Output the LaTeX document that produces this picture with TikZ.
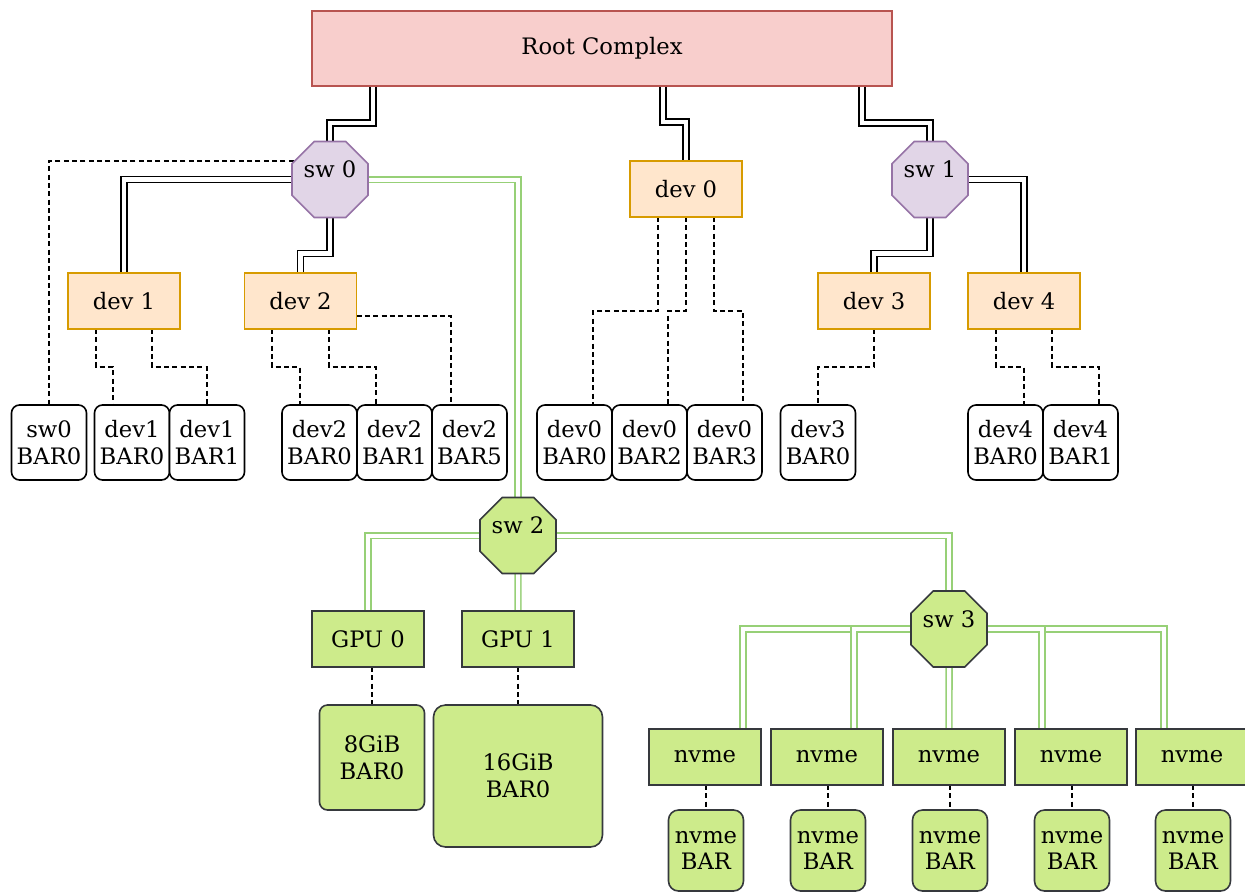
\documentclass[tikz,border=0pt]{standalone}
\usepackage{fontspec}
\setmainfont{DejaVu Serif}
\usetikzlibrary{shapes.geometric,backgrounds}
\definecolor{rootF}{HTML}{F8CECC}\definecolor{rootD}{HTML}{B85450}
\definecolor{purF}{HTML}{E1D5E7}\definecolor{purD}{HTML}{9673A6}
\definecolor{orF}{HTML}{FFE6CC}\definecolor{orD}{HTML}{D79B00}
\definecolor{grF}{HTML}{CDEB8B}\definecolor{grD}{HTML}{36393D}
\definecolor{grL}{HTML}{97D077}
\newcommand\uplabel[1]{\raisebox{7.5pt}[\height][\depth]{#1}}
\begin{document}
\begin{tikzpicture}[x=0.75pt,y=-0.75pt,
 every node/.style={font=\fontsize{17}{20}\selectfont, align=center, inner sep=0pt, outer sep=0pt},
 rootbox/.style={draw=rootD, fill=rootF, line width=1.2pt, minimum width=435pt, minimum height=56.25pt},
 devbox/.style={draw=orD, fill=orF, line width=1.2pt, minimum width=84pt, minimum height=42pt},
 swoct/.style={regular polygon, regular polygon sides=8, minimum size=61.7pt, draw=purD, fill=purF, line width=1.2pt},
 gsw/.style={swoct, draw=grD, fill=grF},
 gbox/.style={devbox, draw=grD, fill=grF},
 barbox/.style={draw=black, fill=white, rounded corners=6pt, line width=1.2pt, minimum width=56.25pt, minimum height=56.25pt},
 gbar/.style={barbox, draw=grD, fill=grF},
 dbl/.style={draw=black, line width=1.15pt, double=white, double distance=3.2pt},
 gdbl/.style={dbl, draw=grL, line width=1.3pt, double distance=3pt},
 dsh/.style={draw=black, line width=1.3pt, dash pattern=on 3.75pt off 2.5pt},
]
\clip (0,0) rectangle (1245,893);
% nodes
\node[rootbox] (root) at (602,48.5) {Root Complex};
\node[swoct] (sw0) at (330,179.5) {\uplabel{sw 0}};
\node[devbox] (dev0) at (686,189) {dev 0};
\node[swoct] (sw1) at (930,179.5) {\uplabel{sw 1}};
\node[devbox] (dev1) at (124,301) {dev 1};
\node[devbox] (dev2) at (300.5,301) {dev 2};
\node[devbox] (dev3) at (874,301) {dev 3};
\node[devbox] (dev4) at (1024,301) {dev 4};
\node[barbox] (sw0bar) at (49,442.5) {sw0\\BAR0};
\node[barbox] (dev1bar0) at (132,442.5) {dev1\\BAR0};
\node[barbox] (dev1bar1) at (207,442.5) {dev1\\BAR1};
\node[barbox] (dev2bar0) at (319.5,442.5) {dev2\\BAR0};
\node[barbox] (dev2bar1) at (394.5,442.5) {dev2\\BAR1};
\node[barbox] (dev2bar5) at (469.5,442.5) {dev2\\BAR5};
\node[barbox] (dev0bar0) at (574.5,442.5) {dev0\\BAR0};
\node[barbox] (dev0bar2) at (649.5,442.5) {dev0\\BAR2};
\node[barbox] (dev0bar3) at (724.5,442.5) {dev0\\BAR3};
\node[barbox] (dev3bar0) at (818,442.5) {dev3\\BAR0};
\node[barbox] (dev4bar0) at (1005.5,442.5) {dev4\\BAR0};
\node[barbox] (dev4bar1) at (1080.5,442.5) {dev4\\BAR1};
\node[gsw] (sw2) at (518,535.5) {\uplabel{sw 2}};
\node[gbox] (gpu0) at (368,639) {GPU 0};
\node[gbox] (gpu1) at (518,639) {GPU 1};
\node[gbar, minimum width=78.75pt, minimum height=78.75pt] (gib8) at (372,757.5) {8GiB\\BAR0};
\node[gbar, minimum width=126.75pt, minimum height=106.5pt, rounded corners=9pt] (gib16) at (518,776) {16GiB\\BAR0};
\node[gsw] (sw3) at (949,629) {\uplabel{sw 3}};
\foreach \i/\x in {1/705,2/827,3/949,4/1071,5/1192}{
  \node[gbox] (nv\i) at (\x,757) {nvme};
  \node[gbar, minimum height=60.75pt, rounded corners=7.5pt] (nvbar\i) at (\x+1,850.5) {nvme\\BAR};
}
% edges
\begin{scope}[on background layer]
\draw[dbl] ([shift={(-229,0)}]root.south) -- ++(0,37) -| (sw0.north);
\draw[dbl] ([shift={(61,0)}]root.south) -- ++(0,36) -| (dev0.north);
\draw[dbl] ([shift={(260,0)}]root.south) -- ++(0,37) -| (sw1.north);
\draw[dbl] (sw0.west) -| (dev1.north);
\draw[dbl] (sw0.south) -- ++(0,36) -| (dev2.north);
\draw[gdbl] (sw0.east) -| (sw2.north);
\draw[dsh] ([shift={(10,-18.5)}]sw0.west) -| (sw0bar.north);
\draw[dsh] ([shift={(-28,0)}]dev1.south) -- ++(0,38) -| ([shift={(-19,0)}]dev1bar0.north);
\draw[dsh] ([shift={(28,0)}]dev1.south) -- ++(0,38) -| (dev1bar1.north);
\draw[dsh] ([shift={(-28.5,0)}]dev2.south) -- ++(0,38) -| ([shift={(-19.5,0)}]dev2bar0.north);
\draw[dsh] ([shift={(28.5,0)}]dev2.south) -- ++(0,38) -| ([shift={(-18.5,0)}]dev2bar1.north);
\draw[dsh] ([shift={(0,15)}]dev2.east) -| ([shift={(-18.5,0)}]dev2bar5.north);
\draw[dsh] ([shift={(-28,0)}]dev0.south) -- ++(0,94) -| ([shift={(18.5,0)}]dev0bar0.north);
\draw[dsh] (dev0.south) -- ++(0,94) -| ([shift={(18.5,0)}]dev0bar2.north);
\draw[dsh] ([shift={(28,0)}]dev0.south) -- ++(0,94) -| ([shift={(18.5,0)}]dev0bar3.north);
\draw[dbl] (sw1.south) -- ++(0,36) -| (dev3.north);
\draw[dbl] (sw1.east) -| (dev4.north);
\draw[dsh] (dev3.south) -- ++(0,38) -| (dev3bar0.north);
\draw[dsh] ([shift={(-28,0)}]dev4.south) -- ++(0,38) -| ([shift={(18.5,0)}]dev4bar0.north);
\draw[dsh] ([shift={(28,0)}]dev4.south) -- ++(0,38) -| ([shift={(18.5,0)}]dev4bar1.north);
\draw[gdbl] (sw2.west) -| (gpu0.north);
\draw[gdbl] (sw2.south) -- (gpu1.north);
\draw[gdbl] (sw2.east) -| (sw3.north);
\draw[dsh] (gib8.north |- gpu0.south) -- (gib8.north);
\draw[dsh] (gpu1.south) -- (gib16.north);
\draw[gdbl] (sw3.west) -| ([shift={(38,0)}]nv1.north);
\draw[gdbl] (sw3.west) -| ([shift={(27,0)}]nv2.north);
\draw[gdbl] (sw3.east) -| ([shift={(-28,0)}]nv5.north);
\draw[gdbl] (sw3.east) -| ([shift={(-29,0)}]nv4.north);
\draw[gdbl] (sw3.south) -- (nv3.north);
\foreach \i in {1,...,5}{
  \draw[dsh] (nvbar\i.north |- nv\i.south) -- (nvbar\i.north);
}
\end{scope}
\end{tikzpicture}
\end{document}
